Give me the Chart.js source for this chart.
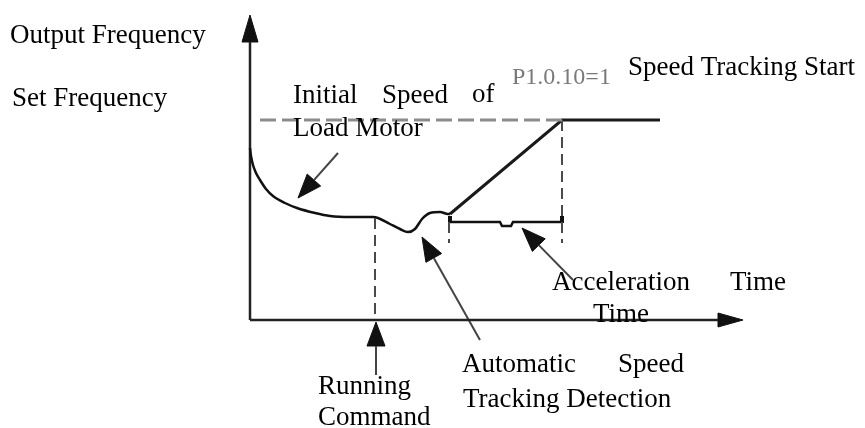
<!DOCTYPE html>
<html><head><meta charset="utf-8">
<script src="https://cdn.jsdelivr.net/npm/chart.js@4/dist/chart.umd.min.js"></script>
<style>html,body{margin:0;padding:0;background:#fff}#wrap{width:865px;height:428px}</style>
</head><body><div id="wrap"><canvas id="c" width="865" height="428"></canvas></div>
<script>
// ---- diagram data (time units along x, frequency units along y; origin = axes corner) ----
// output frequency: decay of load motor speed, then speed-tracking detection dip
const decayTime = [0, 1, 3, 6, 10, 16, 23, 35, 47, 65, 80, 100, 123, 128, 140, 150, 158, 165, 172, 180, 190, 198, 200];
const decayFreq = [172, 164, 155, 147, 140, 131, 124, 117, 112, 107, 104, 103, 103, 102, 96, 91, 88, 91, 101, 107, 108, 106, 106];
// acceleration ramp after tracking starts, then running at set frequency
const rampTime = [200, 312, 410];
const rampFreq = [106, 200, 200];
// set frequency (dashed reference)
const setFreqTime = [10, 312];
const setFreqValue = [200, 200];
// acceleration-time bracket
const accelTime = [200, 250, 252, 261, 263, 312];
const accelFreq = [98, 98, 94, 94, 98, 98];
// vertical dashed markers: [time, fromFreq, toFreq]
const markerTime = [125, 199, 312];
const markerFrom = [102, 98, 200];
const markerTo = [0, 77, 77];
// axes extents
const timeAxisEnd = 493;
const freqAxisEnd = 305;
// annotation arrows: tail -> tip
const arrowTailTime = [88, 230, 323, 126];
const arrowTailFreq = [167, -20, 40, -55];
const arrowTipTime = [48, 172, 272, 126];
const arrowTipFreq = [122, 83, 92, -2];
// labels
const labelTexts = ["Output Frequency", "Set Frequency", "Initial", "Speed", "of", "Load Motor",
  "Speed Tracking Start", "Acceleration", "Time", "Time", "Automatic", "Speed",
  "Tracking Detection", "Running", "Command"];
const labelTime = [-240, -238, 43, 132, 222, 43, 378, 302, 480, 343, 212, 368, 213, 68, 68];
const labelFreq = [277, 214, 217, 217, 218, 184, 245, 30, 30, -2, -52, -52, -87, -74, -105];
const paramText = "P1.0.10=1";
const paramTime = 262;
const paramFreq = 236;

// ---- build datasets ----
const pts = (xs, ys) => xs.map((x, i) => ({x, y: ys[i]}));
const ds = [];
const line = (data, extra) => Object.assign({data, showLine: true, pointRadius: 0, fill: false,
  borderColor: '#111', borderWidth: 2.5, tension: 0}, extra);

ds.push(line(pts(setFreqTime, setFreqValue), {borderColor: '#8c8c8c', borderWidth: 3, borderDash: [16, 6]}));
markerTime.forEach((t, i) => ds.push(line(pts([t, t], [markerFrom[i], markerTo[i]]),
  {borderColor: '#4a4a4a', borderWidth: 2, borderDash: [11, 6]})));
ds.push(line(pts(decayTime, decayFreq), {cubicInterpolationMode: 'monotone', borderWidth: 2.5}));
ds.push(line(pts(rampTime, rampFreq), {borderWidth: 3, borderColor: '#1a1a1a'}));
ds.push(line(pts(accelTime, accelFreq), {borderWidth: 2.5}));
// bracket end ticks
[accelTime[0], accelTime[accelTime.length - 1]].forEach(t =>
  ds.push(line(pts([t, t], [accelFreq[0] - 1, accelFreq[0] + 6]), {borderWidth: 4})));

// axes with arrowheads
function arrow(x0, y0, x1, y1, headLen, headHalf, color, headColor, width) {
  const dx = x1 - x0, dy = y1 - y0, L = Math.hypot(dx, dy);
  const ux = dx / L, uy = dy / L;
  const bx = x1 - ux * headLen, by = y1 - uy * headLen;
  ds.push(line([{x: x0, y: y0}, {x: bx, y: by}], {borderColor: color, borderWidth: width}));
  ds.push(line([{x: bx - uy * headHalf, y: by + ux * headHalf}, {x: x1, y: y1},
    {x: bx + uy * headHalf, y: by - ux * headHalf}, {x: bx - uy * headHalf, y: by + ux * headHalf}],
    {borderColor: headColor, backgroundColor: headColor, borderWidth: 1, fill: 'shape'}));
}
arrow(0, 0, 0, freqAxisEnd, 27, 8, '#222', '#111', 2.5);
arrow(0, 0, timeAxisEnd, 0, 25, 7, '#222', '#111', 2.5);
arrowTailTime.forEach((t, i) =>
  arrow(t, arrowTailFreq[i], arrowTipTime[i], arrowTipFreq[i], 24, 9, '#444', '#111', 2));

const labelPlugin = {
  id: 'labels',
  afterDatasetsDraw(chart) {
    const {ctx, scales: {x, y}} = chart;
    ctx.save();
    ctx.textBaseline = 'alphabetic';
    ctx.textAlign = 'left';
    ctx.fillStyle = '#000';
    ctx.font = '27px "Liberation Serif", "Times New Roman", serif';
    labelTexts.forEach((s, i) => ctx.fillText(s, x.getPixelForValue(labelTime[i]), y.getPixelForValue(labelFreq[i])));
    ctx.fillStyle = '#7a7a7a';
    ctx.font = '24px "Liberation Serif", "Times New Roman", serif';
    ctx.fillText(paramText, x.getPixelForValue(paramTime), y.getPixelForValue(paramFreq));
    ctx.restore();
  }
};

new Chart(document.getElementById('c'), {
  type: 'scatter',
  data: {datasets: ds},
  options: {
    responsive: false, animation: false, devicePixelRatio: 1,
    layout: {padding: 0},
    plugins: {legend: {display: false}, tooltip: {enabled: false}},
    scales: {
      x: {type: 'linear', min: -250, max: 615, display: false},
      y: {type: 'linear', min: -108, max: 320, display: false}
    }
  },
  plugins: [labelPlugin]
});
</script></body></html>
